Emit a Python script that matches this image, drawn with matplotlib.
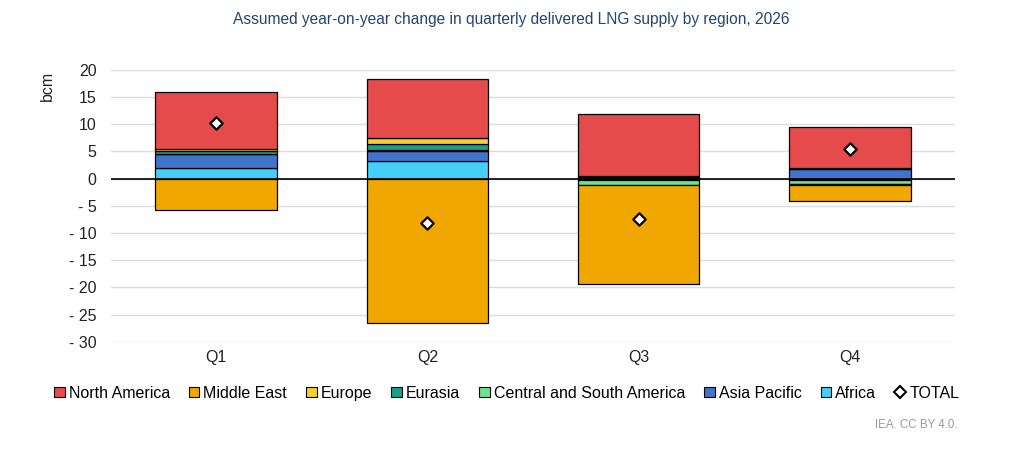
import numpy as np
import matplotlib.pyplot as plt
from matplotlib.lines import Line2D
from matplotlib.patches import Patch

quarters = ["Q1", "Q2", "Q3", "Q4"]
# series listed bottom of stack first
africa = [2.0, 3.2, -0.2, -0.3]
asia_pacific = [2.5, 1.9, 0.0, 1.8]
csa = [0.1, 0.1, -1.0, -0.7]
eurasia = [0.4, 1.2, 0.3, 0.1]
europe = [0.5, 1.0, 0.2, -0.2]
middle_east = [-5.8, -26.5, -18.1, -2.9]
north_america = [10.5, 11.0, 11.4, 7.6]

names = ["Africa", "Asia Pacific", "Central and South America", "Eurasia",
         "Europe", "Middle East", "North America"]
series = [africa, asia_pacific, csa, eurasia, europe, middle_east, north_america]
colors = ["#45CFF7", "#3F73CE", "#6DE38E", "#17A08F", "#F7CF2E", "#F0A700", "#E54B4A"]

plt.rcParams['font.family'] = ['Liberation Sans', 'DejaVu Sans']
fig = plt.figure(figsize=(10.24, 4.51), dpi=100, facecolor="white")
ax = fig.add_axes([0.108, 0.242, 0.825, 0.603])

x = np.arange(len(quarters))
pos_base = np.zeros(len(quarters))
neg_base = np.zeros(len(quarters))
for vals, c in zip(series, colors):
    v = np.array(vals)
    bottom = np.where(v >= 0, pos_base, neg_base)
    ax.bar(x, v, bottom=bottom, width=0.575, color=c, edgecolor="black",
           linewidth=0.9, zorder=3)
    pos_base = pos_base + np.where(v >= 0, v, 0)
    neg_base = neg_base + np.where(v < 0, v, 0)

total = np.sum(np.array(series), axis=0)
ax.scatter(x, total, marker="D", s=40, facecolor="white", edgecolor="black",
           linewidth=1.6, zorder=5)

ax.set_xlim(-0.5, 3.5)
ax.set_ylim(-30, 20)
ax.set_yticks(np.arange(-30, 21, 5))
ax.set_yticklabels([("- %d" % -t) if t < 0 else "%d" % t for t in np.arange(-30, 21, 5)])
ax.set_xticks(x)
ax.set_xticklabels(quarters)
ax.tick_params(length=0, labelsize=11.5, colors="#222222")
ax.tick_params(axis="x", pad=6)
ax.tick_params(axis="y", pad=10)
for s in ax.spines.values():
    s.set_visible(False)
ax.grid(axis="y", color="#DCDCDC", linewidth=1, zorder=0)
ax.axhline(0, color="black", linewidth=1.2, zorder=4)

fig.text(0.046, 0.81, "bcm", rotation=90, fontsize=11.5, ha="center", va="center",
         color="#222222")
fig.text(0.499, 0.957, "Assumed year-on-year change in quarterly delivered LNG supply by region, 2026",
         ha="center", va="center", fontsize=11.2, color="#234670")
fig.text(0.935, 0.058, "IEA. CC BY 4.0.", ha="right", va="center", fontsize=8.3,
         color="#9A9A9A")

handles = []
for n, c in zip(names[::-1], colors[::-1]):
    handles.append(Patch(facecolor=c, edgecolor="black", linewidth=0.8, label=n))
handles.append(Line2D([], [], marker="D", linestyle="none", markersize=6,
                      markerfacecolor="white", markeredgecolor="black",
                      markeredgewidth=1.5, label="TOTAL"))
fig.legend(handles=handles, loc="center", bbox_to_anchor=(0.495, 0.128), ncol=8,
           frameon=False, fontsize=11.5, handlelength=0.65, handleheight=0.65,
           handletextpad=0.25, columnspacing=1.2)

plt.savefig("out.png", dpi=100)
